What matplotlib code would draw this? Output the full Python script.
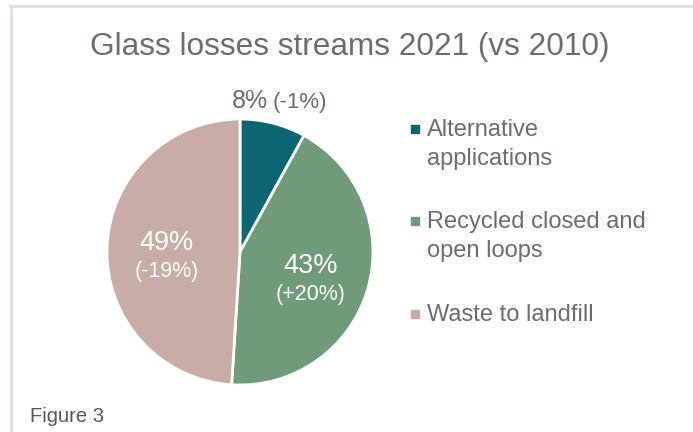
import matplotlib.pyplot as plt
import numpy as np
from matplotlib.patches import Rectangle
from matplotlib.lines import Line2D

plt.rcParams['font.family'] = ['Liberation Sans', 'DejaVu Sans']

categories = ["Alternative\napplications", "Recycled closed and\nopen loops", "Waste to landfill"]
shares = [8, 43, 49]
changes = ["(-1%)", "(+20%)", "(-19%)"]
colors = ["#0b6572", "#6f9b79", "#c9aca5"]
txt_col = "#746a6b"

fig = plt.figure(figsize=(6.93, 4.32), dpi=100)

# light frame (top and left edges)
fig.add_artist(Line2D([10.5/693, 10.5/693], [0, 1 - 6/432], color="#e2dede", lw=2))
fig.add_artist(Line2D([10/693, 1], [1 - 6/432, 1 - 6/432], color="#e2dede", lw=2))

fig.text(0.505, 1 - 47/432, "Glass losses streams 2021 (vs 2010)", ha="center", va="center",
         fontsize=22.7, color=txt_col)

ax = fig.add_axes([0.1544, 0.1088, 0.3838, 0.6157])
wedges, _ = ax.pie(shares, colors=colors, startangle=90, counterclock=False,
                   wedgeprops=dict(edgecolor="white", linewidth=2))
ax.set_xlim(-1, 1)
ax.set_ylim(-1, 1)
ax.set_aspect("equal")
ax.axis("off")

# labels: inside for big slices, outside for the small one
for i, w in enumerate(wedges):
    mid = np.deg2rad((w.theta1 + w.theta2) / 2)
    if shares[i] < 10:
        x, y = 1.17 * np.cos(mid), 1.17 * np.sin(mid)
        ax.text(x - 0.08, y, f"{shares[i]}%", ha="right", va="center", fontsize=18, color=txt_col)
        ax.text(x - 0.045, y - 0.01, changes[i], ha="left", va="center", fontsize=16, color=txt_col)
    else:
        x, y = 0.55 * np.cos(mid), 0.55 * np.sin(mid) - 0.015
        ax.text(x, y + 0.065, f"{shares[i]}%", ha="center", va="center", fontsize=19.5, color="white")
        ax.text(x, y - 0.15, changes[i], ha="center", va="center", fontsize=15.5, color="white")

# legend drawn by hand so the marker sits on the first line
leg_y = [136, 228, 321]
for lab, c, yy in zip(categories, colors, leg_y):
    fig.add_artist(Rectangle((411/693, 1 - (yy - 3)/432), 8/693, 8/432, color=c,
                             transform=fig.transFigure))
    for k, line in enumerate(lab.split("\n")):
        fig.text(427/693, 1 - (yy + 29 * k)/432, line, ha="left", va="baseline", fontsize=17,
                 color=txt_col)

fig.text(30/693, 1 - 416/432, "Figure 3", ha="left", va="center", fontsize=14.5, color="#5d5556")

fig.savefig("out.png", dpi=100)
